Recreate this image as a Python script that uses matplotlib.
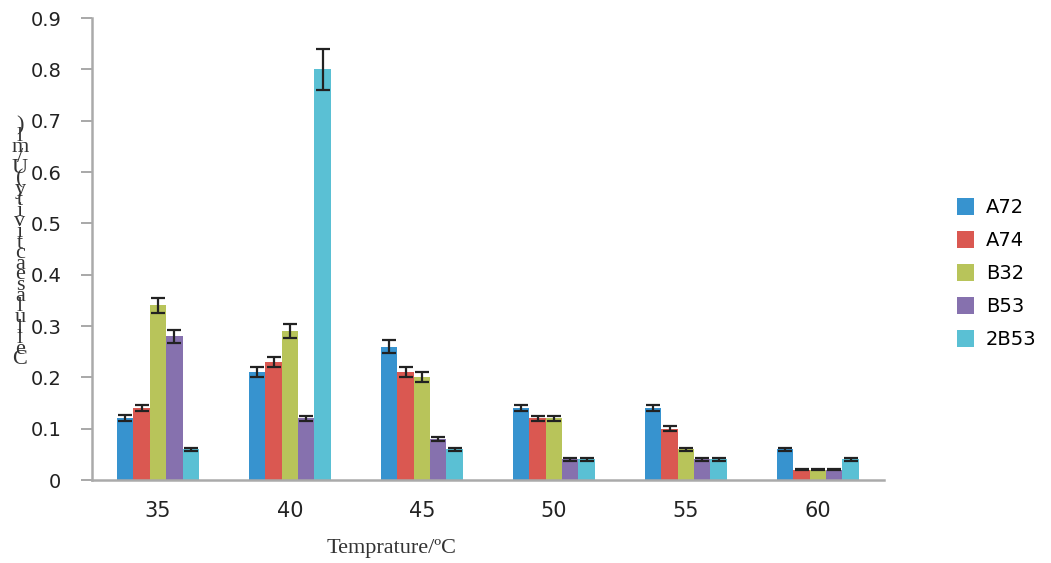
import matplotlib.pyplot as plt
import numpy as np

temps = ["35", "40", "45", "50", "55", "60"]
strains = ["A72", "A74", "B32", "B53", "2B53"]
colors = ["#3793CF", "#DA5851", "#B8C45A", "#8671AE", "#5AC0D4"]

activity = {
    "A72":  [0.12, 0.21, 0.26, 0.14, 0.14, 0.06],
    "A74":  [0.14, 0.23, 0.21, 0.12, 0.10, 0.02],
    "B32":  [0.34, 0.29, 0.20, 0.12, 0.06, 0.02],
    "B53":  [0.28, 0.12, 0.08, 0.04, 0.04, 0.02],
    "2B53": [0.06, 0.80, 0.06, 0.04, 0.04, 0.04],
}
errors = {
    "A72":  [0.006, 0.010, 0.012, 0.006, 0.006, 0.003],
    "A74":  [0.006, 0.010, 0.010, 0.005, 0.005, 0.001],
    "B32":  [0.015, 0.013, 0.010, 0.005, 0.003, 0.001],
    "B53":  [0.013, 0.005, 0.004, 0.002, 0.002, 0.001],
    "2B53": [0.003, 0.040, 0.003, 0.002, 0.002, 0.002],
}

fig = plt.figure(figsize=(10.51, 5.63), dpi=100)
ax = fig.add_axes([0.0875, 0.1474, 0.7535, 0.8206])

x = np.arange(len(temps))
w = 0.124
for i, s in enumerate(strains):
    ax.bar(x + (i - 2) * w, activity[s], w, color=colors[i], label=s,
           yerr=errors[s], capsize=5,
           error_kw=dict(ecolor="#222222", elinewidth=1.6, capthick=1.6))

ax.set_xlim(-0.5, len(temps) - 0.5)
ax.set_ylim(0, 0.9)
ax.set_yticks(np.arange(0, 0.91, 0.1))
ax.set_yticklabels(["0"] + [f"{v:.1f}" for v in np.arange(0.1, 0.91, 0.1)])
ax.set_xticks(x)
ax.set_xticklabels(temps)
ax.tick_params(axis="x", length=0, pad=15, labelsize=15, colors="#222222")
ax.tick_params(axis="y", length=8, width=1.2, color="#999999", pad=14,
               labelsize=14, labelcolor="#222222")
for side in ["top", "right"]:
    ax.spines[side].set_visible(False)
for side in ["left", "bottom"]:
    ax.spines[side].set_color("#AAAAAA")
    ax.spines[side].set_linewidth(1.8)

fig.text(392 / 1051, 1 - 549 / 563, "Temprature/ºC", ha="center", va="center",
         family="Liberation Serif", fontsize=16, color="#333333")

# garbled stacked y-axis label, as in the original
label = "Cellulase activity(U/ml)".replace(" ", "")
top, bottom = 126, 360
for k, ch in enumerate(label[::-1]):
    yy = top + k * (bottom - top) / (len(label) - 1)
    fig.text(20 / 1051, 1 - yy / 563, ch, ha="center", va="center",
             family="Liberation Serif", fontsize=16, color="#333333")

ax.legend(loc="upper left", bbox_to_anchor=(1.092, 0.61), frameon=False,
          borderaxespad=0, borderpad=0,
          fontsize=14, handlelength=0.9, handleheight=0.9,
          labelspacing=0.72, handletextpad=0.6)

fig.savefig("out.png", dpi=100)
